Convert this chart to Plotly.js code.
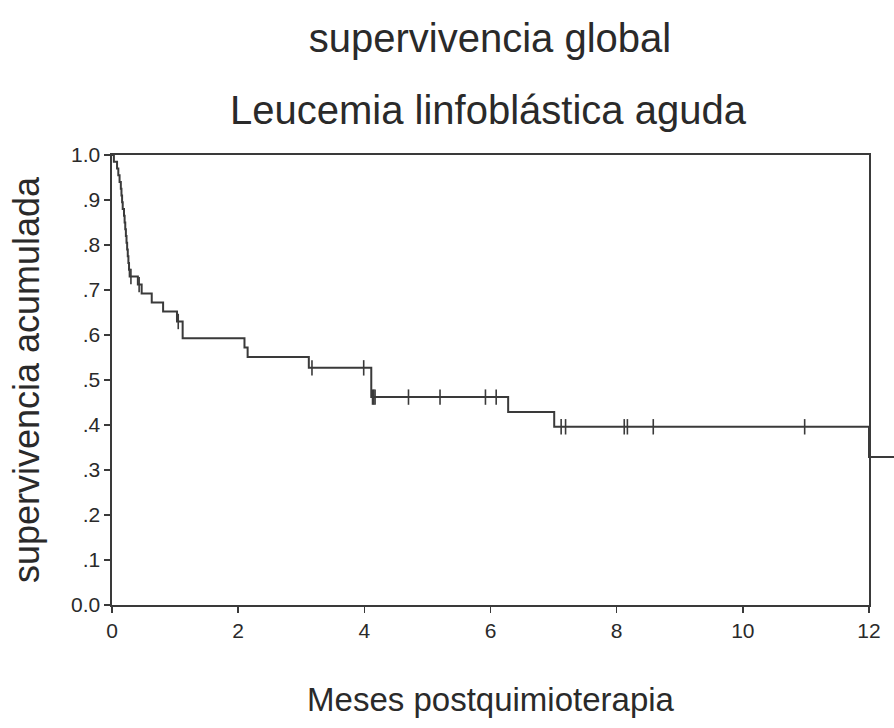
<!DOCTYPE html>
<html>
<head>
<meta charset="utf-8">
<script src="https://cdn.plot.ly/plotly-3.0.1.min.js"></script>
<style>html,body{margin:0;padding:0;background:#fff;}#chart{width:894px;height:728px;}</style>
</head>
<body>
<div id="chart"></div>
<script>
// Kaplan-Meier step function: event times (months) and survival right after each event
const eventTimes = [0, 0.03, 0.08, 0.10, 0.12, 0.14, 0.15, 0.16, 0.17, 0.19, 0.20, 0.21, 0.22, 0.23, 0.24, 0.25, 0.26, 0.27, 0.28,
                    0.41, 0.47, 0.63, 0.81, 1.03, 1.12, 2.10, 2.15, 3.12, 4.11, 6.28, 7.01, 12.0];
const survival   = [1.000, 0.985, 0.970, 0.955, 0.940, 0.925, 0.910, 0.895, 0.880, 0.865, 0.850, 0.835, 0.820, 0.805, 0.790, 0.775, 0.760, 0.745, 0.730,
                    0.712, 0.692, 0.672, 0.652, 0.630, 0.593, 0.572, 0.551, 0.527, 0.462, 0.429, 0.396, 0.329];
const followUpEnd = 12.4;
// censored observations (months)
const censorTimes = [0.30, 0.43, 1.05, 3.17, 3.99, 4.13, 4.15, 4.17, 4.70, 5.20, 5.92, 6.09, 7.12, 7.19, 8.12, 8.17, 8.58, 10.98];

const xTickVals = [0, 2, 4, 6, 8, 10, 12];
const yTickVals = [0, 0.1, 0.2, 0.3, 0.4, 0.5, 0.6, 0.7, 0.8, 0.9, 1.0];
const yTickText = ['0.0', '.1', '.2', '.3', '.4', '.5', '.6', '.7', '.8', '.9', '1.0'];

function survAt(t) {
  let s = survival[0];
  for (let i = 0; i < eventTimes.length; i++) { if (eventTimes[i] <= t) s = survival[i]; }
  return s;
}

const lineX = eventTimes.concat([followUpEnd]);
const lineY = survival.concat([survival[survival.length - 1]]);
const censorY = censorTimes.map(survAt);

const ink = '#3a3a3a';
const font = 'Liberation Sans, Arial, sans-serif';

// Plot area geometry: left edge at 112px, x=12 at 869px, paper extends to 894px
const W = 894, ml = 112, mr = 0;
const plotW = W - ml - mr;
const xEndFrac = (869 - ml) / plotW;
const x2Max = 12 / xEndFrac;

const traces = [
  { x: lineX, y: lineY, xaxis: 'x2', yaxis: 'y', type: 'scatter', mode: 'lines',
    line: { shape: 'hv', color: ink, width: 2 }, hoverinfo: 'skip', showlegend: false },
  { x: censorTimes, y: censorY, xaxis: 'x', yaxis: 'y', type: 'scatter', mode: 'markers',
    marker: { symbol: 'line-ns', size: 11, line: { color: ink, width: 1.6 } }, hoverinfo: 'skip', showlegend: false }
];

const layout = {
  width: 894, height: 728,
  margin: { l: ml, r: mr, t: 155, b: 123 },
  paper_bgcolor: '#fff', plot_bgcolor: 'rgba(0,0,0,0)',
  font: { family: font, color: '#2a2a2a' },
  showlegend: false,
  title: { text: 'supervivencia global', font: { family: font, size: 40, color: '#2a2a2a' },
           x: 490 / 894, xanchor: 'center', y: 1 - 38 / 728, yanchor: 'middle' },
  annotations: [{ text: 'Leucemia linfoblástica aguda', xref: 'paper', yref: 'paper',
                  x: (488 - ml) / plotW, y: (605 - 110) / 450, xanchor: 'center', yanchor: 'middle',
                  showarrow: false, font: { family: font, size: 40, color: '#2a2a2a' } }],
  xaxis: { domain: [0, xEndFrac], range: [0, 12], anchor: 'y',
           tickvals: xTickVals, ticktext: xTickVals.map(String), ticks: 'outside', ticklen: 6, tickwidth: 1.5, tickcolor: ink,
           showline: true, linecolor: ink, linewidth: 1.6, mirror: true, showgrid: false, zeroline: false,
           tickfont: { family: font, size: 21, color: '#2a2a2a' },
           title: { text: 'Meses postquimioterapia', font: { family: font, size: 33, color: '#2a2a2a' }, standoff: 47 } },
  xaxis2: { domain: [0, 1], range: [0, x2Max], anchor: 'y', visible: false, showgrid: false, zeroline: false },
  yaxis: { domain: [0, 1], range: [0, 1], anchor: 'x',
           tickvals: yTickVals, ticktext: yTickText, ticks: 'outside', ticklen: 6, tickwidth: 1.5, tickcolor: ink,
           showline: true, linecolor: ink, linewidth: 1.6, mirror: true, showgrid: false, zeroline: false,
           tickfont: { family: font, size: 21, color: '#2a2a2a' },
           title: { text: 'supervivencia acumulada', font: { family: font, size: 36, color: '#2a2a2a' }, standoff: 20 } }
};

Plotly.newPlot('chart', traces, layout, { staticPlot: true, displayModeBar: false });
</script>
</body>
</html>
